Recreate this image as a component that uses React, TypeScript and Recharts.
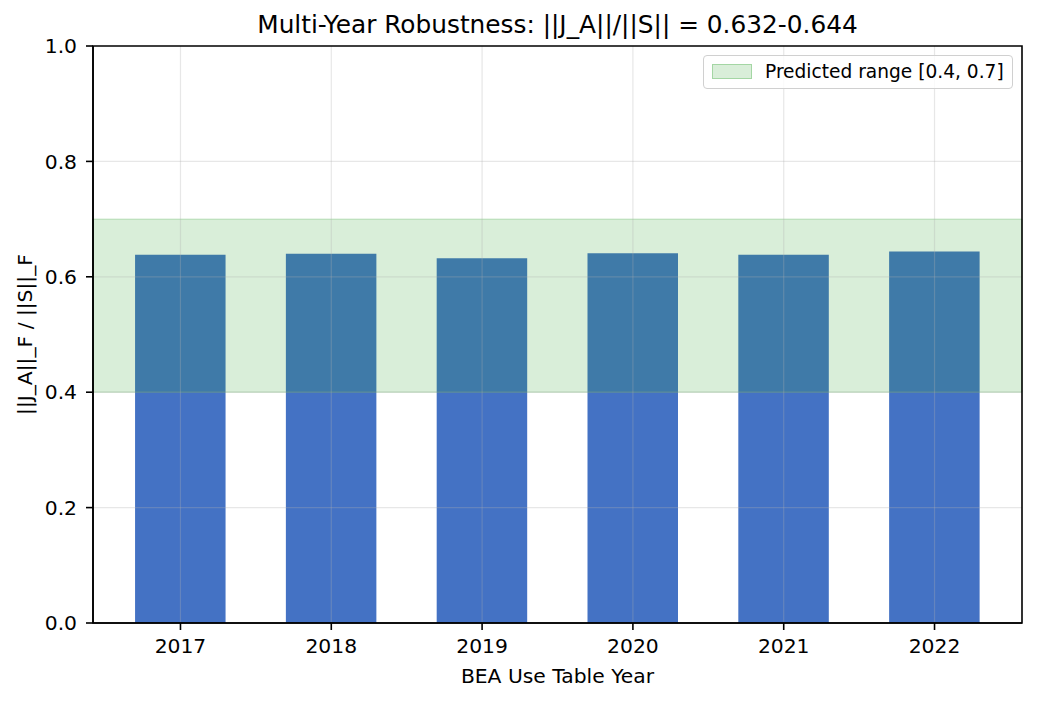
import { BarChart, Bar, XAxis, YAxis, ReferenceArea, ReferenceLine } from 'recharts';

const years = ['2017', '2018', '2019', '2020', '2021', '2022'];
const ratios = [0.638, 0.640, 0.632, 0.641, 0.638, 0.644];
const yTicks = [0, 0.2, 0.4, 0.6, 0.8, 1.0];
const xLimits = [-0.58, 5.58];
const predictedLow = 0.4;
const predictedHigh = 0.7;

const data = years.map((year, i) => ({ idx: i, year, ratio: ratios[i] }));
const xTicks = years.map((_, i) => i);

const FONT = '"DejaVu Sans", sans-serif';
const tickStyle = { fill: '#000', fontSize: 20.3, fontFamily: FONT };
const axisLine = { stroke: '#000', strokeWidth: 1.6 };
const tickLine = { stroke: '#000', strokeWidth: 1.6 };

const LegendBox = () => (
    <div style={{
        position: 'absolute', left: 703, top: 55, width: 308, height: 32,
        border: '1px solid #d0d0d0', borderRadius: 4, background: 'rgba(255,255,255,0.8)',
        fontFamily: FONT, fontSize: 18.6,
    }}>
        <div style={{
            position: 'absolute', left: 8, top: 8, width: 38, height: 13,
            background: 'rgba(44,160,44,0.18)', border: '1px solid rgba(44,160,44,0.3)',
        }} />
        <div style={{ position: 'absolute', left: 61, top: 5, color: '#000', whiteSpace: 'nowrap' }}>
            Predicted range [0.4, 0.7]
        </div>
    </div>
);

const App = () => {
    return (
        <div style={{ position: 'absolute', left: 0, top: 0, width: 1037, height: 701, background: '#fff' }}>
            <div style={{
                position: 'absolute', left: 93, width: 929, top: 10, textAlign: 'center',
                fontFamily: FONT, fontSize: 24.8, color: '#000', whiteSpace: 'nowrap',
            }}>
                Multi-Year Robustness: ||J_A||/||S|| = 0.632-0.644
            </div>
            <BarChart width={1037} height={701} data={data}
                margin={{ top: 46, right: 15, bottom: 38, left: 33 }}>
                <XAxis dataKey="idx" type="number" domain={xLimits} ticks={xTicks} allowDataOverflow height={40}
                    tickFormatter={(i: number) => years[i]}
                    tick={tickStyle} tickSize={7} tickMargin={9} axisLine={axisLine} tickLine={tickLine}
                    label={{
                        content: () => (
                            <text x={557.5} y={683} textAnchor="middle" fill="#000" fontSize={20.3} fontFamily={FONT}>
                                BEA Use Table Year
                            </text>
                        ),
                    }} />
                <YAxis domain={[0, 1]} ticks={yTicks} width={60} tick={tickStyle} tickSize={7} tickMargin={9}
                    tickFormatter={(v: number) => v.toFixed(1)} axisLine={axisLine} tickLine={tickLine}
                    label={{
                        content: () => (
                            <text x={32} y={334.5} transform="rotate(-90, 32, 334.5)" textAnchor="middle"
                                fill="#000" fontSize={20.3} fontFamily={FONT}>||J_A||_F / ||S||_F</text>
                        ),
                    }} />
                <Bar dataKey="ratio" fill="#4472c4" barSize={90.5} isAnimationActive={false} />
                <ReferenceArea y1={predictedLow} y2={predictedHigh} fill="#2ca02c" fillOpacity={0.18}
                    stroke="#2ca02c" strokeOpacity={0.25} zIndex={400} />
                {yTicks.slice(1, -1).map((v) => (
                    <ReferenceLine key={'y' + v} y={v} stroke="#b0b0b0" strokeOpacity={0.3} strokeWidth={1.2} zIndex={450} />
                ))}
                {xTicks.map((i) => (
                    <ReferenceLine key={'x' + i} x={i} stroke="#b0b0b0" strokeOpacity={0.3} strokeWidth={1.2} zIndex={450} />
                ))}
                <ReferenceArea x1={xLimits[0]} x2={xLimits[1]} y1={0} y2={1} fill="none"
                    stroke="#000" strokeWidth={1.6} ifOverflow="visible" zIndex={600} />
            </BarChart>
            <LegendBox />
        </div>
    );
};

export default App;
